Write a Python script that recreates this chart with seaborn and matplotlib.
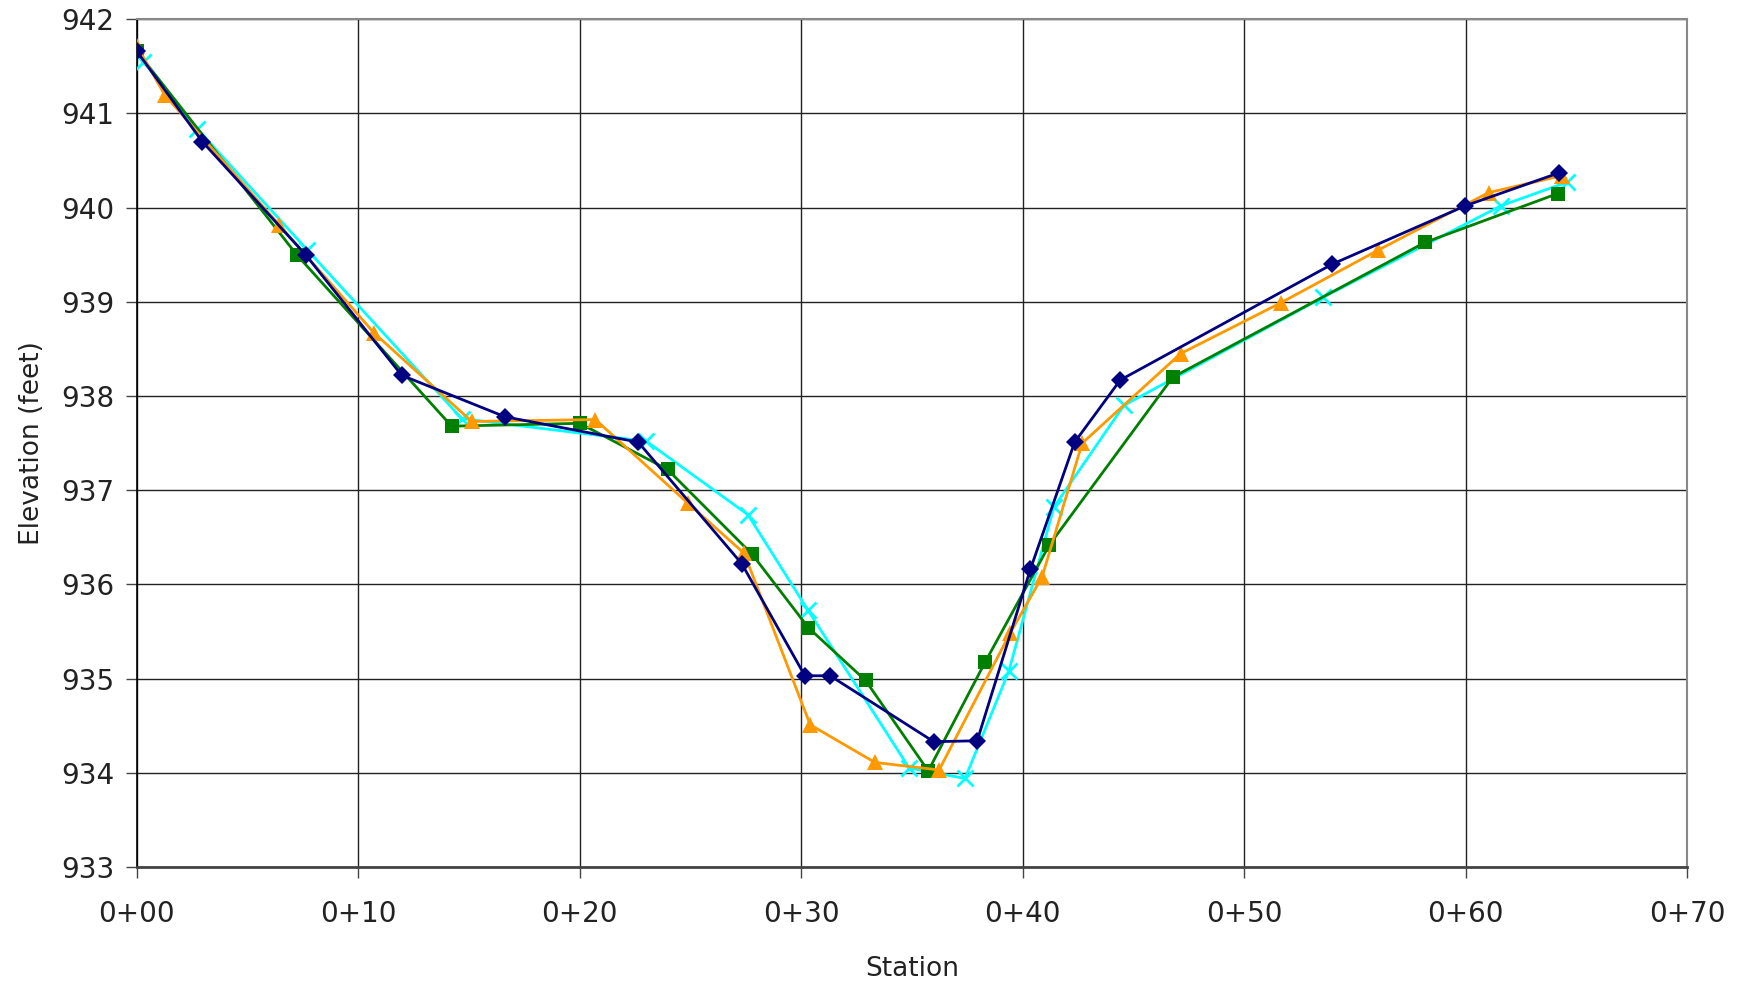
import matplotlib
matplotlib.use("Agg")
import matplotlib.pyplot as plt
import seaborn as sns
import numpy as np
from matplotlib.ticker import FixedLocator, FuncFormatter

# ---- data (station in feet, elevation in feet) ----
navy_x = [0, 2.96, 7.62, 11.96, 16.62, 22.64, 27.31, 30.16, 31.30, 35.98, 37.94, 40.34, 42.34, 44.40, 53.97, 59.98, 64.21]
navy_y = [941.66, 940.70, 939.50, 938.22, 937.78, 937.51, 936.22, 935.03, 935.03, 934.33, 934.34, 936.16, 937.51, 938.17, 939.40, 940.02, 940.37]

orange_x = [0, 1.25, 6.42, 10.71, 15.12, 20.70, 24.89, 27.42, 30.40, 33.32, 36.22, 39.42, 40.87, 42.68, 47.12, 51.65, 56.05, 61.03, 64.35]
orange_y = [941.72, 941.20, 939.82, 938.67, 937.73, 937.75, 936.86, 936.33, 934.51, 934.11, 934.03, 935.48, 936.08, 937.50, 938.45, 938.99, 939.55, 940.16, 940.34]

green_x = [0, 7.22, 14.21, 20.0, 23.96, 27.78, 30.32, 32.9, 35.73, 38.31, 41.2, 46.77, 58.15, 64.15]
green_y = [941.66, 939.50, 937.68, 937.71, 937.22, 936.32, 935.54, 934.98, 934.02, 935.18, 936.42, 938.20, 939.63, 940.15]

cyan_x = [0.3, 2.71, 7.7, 14.67, 23.0, 27.59, 30.29, 34.87, 37.39, 39.37, 41.4, 44.56, 53.57, 61.59, 64.56]
cyan_y = [941.55, 940.84, 939.55, 937.76, 937.52, 936.74, 935.73, 934.05, 933.94, 935.08, 936.82, 937.90, 939.05, 940.02, 940.27]

x_ticks = [0, 10, 20, 30, 40, 50, 60, 70]
y_ticks = [933, 934, 935, 936, 937, 938, 939, 940, 941, 942]

sns.set_theme(style="white")
plt.rcParams['font.family'] = ['DejaVu Sans']

fig = plt.figure(figsize=(17.54, 9.88), dpi=100)
ax = fig.add_axes([0.078, 0.1225, 0.884, 0.858])

series = [
    (cyan_x, cyan_y, "#00FFFF", "x", 12, 2.0),
    (green_x, green_y, "#008000", "s", 10.5, 0),
    (orange_x, orange_y, "#FF9900", "^", 12, 0),
    (navy_x, navy_y, "#000080", "D", 9.5, 0),
]
for xs, ys, col, mk, ms, mew in series:
    sns.lineplot(x=xs, y=ys, ax=ax, sort=False, estimator=None, color=col,
                 marker=mk, markersize=ms, markeredgewidth=(mew if mk == "x" else 0),
                 markeredgecolor=col, markerfacecolor=col, linewidth=2.0, zorder=3)

ax.set_xlim(0, 70)
ax.set_ylim(933, 942)
ax.xaxis.set_major_locator(FixedLocator(x_ticks))
ax.yaxis.set_major_locator(FixedLocator(y_ticks))
ax.xaxis.set_major_formatter(FuncFormatter(lambda v, p: f"{int(v)//100}+{int(v)%100:02d}"))
ax.yaxis.set_major_formatter(FuncFormatter(lambda v, p: f"{int(v)}"))

ax.grid(True, color="#222222", linewidth=1.0)
ax.set_axisbelow(True)
for s in ["top", "right"]:
    ax.spines[s].set_color("#888888")
    ax.spines[s].set_linewidth(1.5)
ax.spines["left"].set_color("#000000")
ax.spines["left"].set_linewidth(1.2)
ax.spines["bottom"].set_color("#444444")
ax.spines["bottom"].set_linewidth(2.0)

ax.tick_params(axis="both", which="major", direction="out", length=8, width=1,
               color="#444444", labelsize=20, labelcolor="#222222", bottom=True, left=True)
ax.tick_params(axis="x", pad=16)
ax.tick_params(axis="y", pad=8)

ax.set_xlabel("Station", fontsize=19, color="#222222", labelpad=20)
ax.set_ylabel("Elevation (feet)", fontsize=19, color="#222222", labelpad=12)

fig.savefig("out.png", dpi=100)
